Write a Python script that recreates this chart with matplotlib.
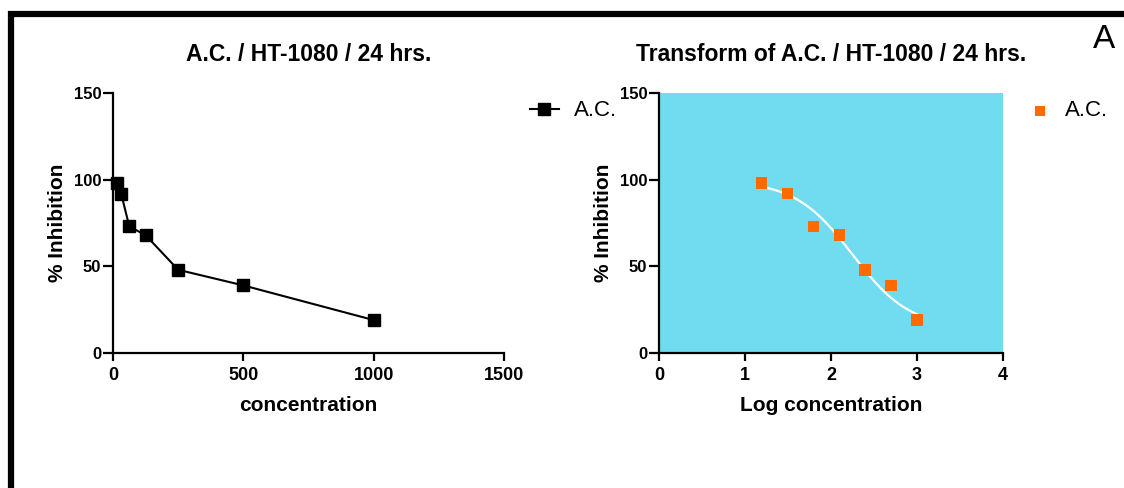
import numpy as np
import matplotlib
matplotlib.use("Agg")
import matplotlib.pyplot as plt
from matplotlib.lines import Line2D

plt.rcParams['font.family'] = ['Liberation Sans', 'DejaVu Sans']

# ---- data ----
concentration = [15.625, 31.25, 62.5, 125, 250, 500, 1000]
inhibition = [98, 92, 73, 68, 48, 39, 19]
series_name = "A.C."
left_title = "A.C. / HT-1080 / 24 hrs."
right_title = "Transform of A.C. / HT-1080 / 24 hrs."
left_xticks = [0, 500, 1000, 1500]
right_xticks = [0, 1, 2, 3, 4]
yticks = [0, 50, 100, 150]

# sigmoidal (4PL) fit parameters
fit_bottom = 14.2
fit_top = 99.4
fit_logIC50 = 2.25
fit_hill = 1.30

conc = np.array(concentration, dtype=float)
resp = np.array(inhibition, dtype=float)
logc = np.log10(conc)
xs = np.linspace(logc.min(), logc.max(), 200)
ys = fit_bottom + (fit_top - fit_bottom) / (1 + 10 ** ((xs - fit_logIC50) * fit_hill))

# ---- figure ----
W, Hh = 1124, 488
fig = plt.figure(figsize=(W / 100, Hh / 100), dpi=100)

def box(x0, x1, y0, y1):
    return [x0 / W, 1 - y1 / Hh, (x1 - x0) / W, (y1 - y0) / Hh]

ax1 = fig.add_axes(box(113, 504, 93, 353))
ax2 = fig.add_axes(box(659, 1003, 93, 353))

def style(ax):
    for s in ['top', 'right']:
        ax.spines[s].set_visible(False)
    for s in ['left', 'bottom']:
        ax.spines[s].set_linewidth(1.6)
        ax.spines[s].set_color('black')
    ax.tick_params(axis='x', direction='out', length=6, width=1.6, labelsize=13, pad=4)
    ax.tick_params(axis='y', direction='out', length=7, width=1.6, labelsize=12, pad=1.5)
    for lab in ax.get_xticklabels() + ax.get_yticklabels():
        lab.set_fontweight('bold')
    ax.set_ylim(0, 150)
    ax.set_yticks(yticks)
    ax.set_ylabel("% Inhibition", fontsize=15, fontweight='bold', labelpad=5)

# left chart
ax1.plot(conc, resp, color='black', lw=1.5, marker='s', ms=8, mfc='black', mec='black',
         label=series_name, clip_on=False)
ax1.set_xlim(0, 1500)
ax1.set_xticks(left_xticks)
style(ax1)
ax1.set_xlabel("concentration", fontsize=15, fontweight='bold', labelpad=9)
ax1.set_title(left_title, fontsize=16.5, fontweight='bold', pad=23)
ax1.legend(loc='center left', bbox_to_anchor=(530 / W, 1 - 111 / Hh),
           bbox_transform=fig.transFigure, frameon=False, fontsize=16,
           handlelength=1.3, handletextpad=0.7, borderaxespad=0, borderpad=0,
           markerscale=1.0)

# right chart
ax2.set_facecolor('#71DBF0')
ax2.scatter(logc, resp, marker='s', s=70, color='#FF6A00', edgecolors='none',
            label=series_name, zorder=3, clip_on=False)
ax2.plot(xs, ys, color='white', lw=1.6, zorder=2)
ax2.set_xlim(0, 4)
ax2.set_xticks(right_xticks)
style(ax2)
ax2.set_xlabel("Log concentration", fontsize=15, fontweight='bold', labelpad=9)
ax2.set_title(right_title, fontsize=16.5, fontweight='bold', pad=23)
ax2.legend(loc='center left', bbox_to_anchor=(1030 / W, 1 - 111 / Hh),
           bbox_transform=fig.transFigure, frameon=False, fontsize=16,
           handlelength=0.9, handletextpad=0.68, borderaxespad=0, borderpad=0,
           markerscale=0.86)

# panel letter
fig.text(1104 / W, 1 - 40 / Hh, "A", fontsize=24, ha='center', va='center')

# border
fig.add_artist(Line2D([8 / W, 1.0], [1 - 13.5 / Hh, 1 - 13.5 / Hh], color='black', lw=4.5,
                      transform=fig.transFigure, solid_capstyle='butt'))
fig.add_artist(Line2D([11 / W, 11 / W], [1 - 11 / Hh, 0], color='black', lw=4.5,
                      transform=fig.transFigure, solid_capstyle='butt'))

fig.savefig("out.png", dpi=100)
